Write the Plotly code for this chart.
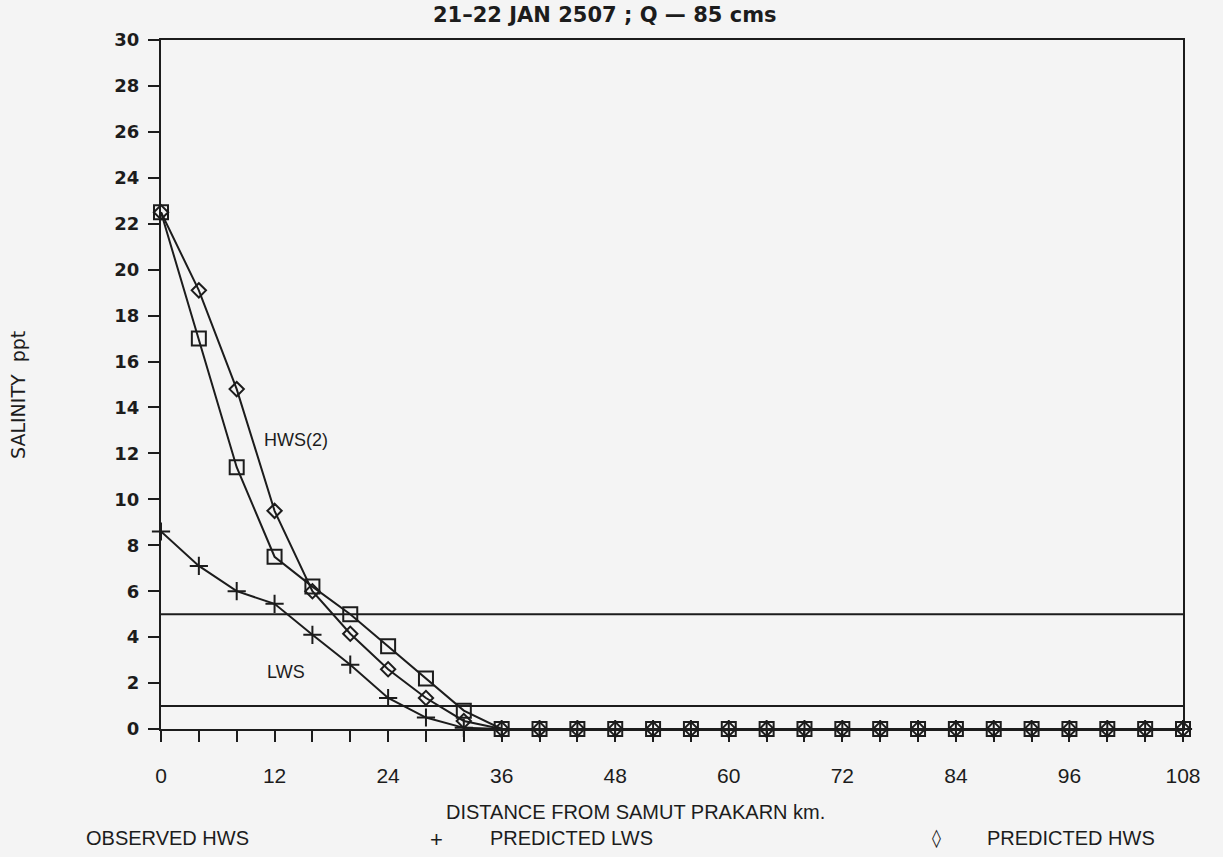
import plotly.graph_objects as go

distance_km = [0, 4, 8, 12, 16, 20, 24, 28, 32, 36, 40, 44, 48, 52, 56, 60, 64, 68,
               72, 76, 80, 84, 88, 92, 96, 100, 104, 108]
observed_hws = [22.5, 17.0, 11.4, 7.5, 6.2, 5.0, 3.6, 2.2, 0.8, 0, 0, 0, 0, 0, 0, 0, 0, 0,
                0, 0, 0, 0, 0, 0, 0, 0, 0, 0]
predicted_hws = [22.5, 19.1, 14.8, 9.5, 6.0, 4.15, 2.6, 1.35, 0.35, 0, 0, 0, 0, 0, 0, 0, 0, 0,
                 0, 0, 0, 0, 0, 0, 0, 0, 0, 0]
predicted_lws = [8.6, 7.1, 6.0, 5.45, 4.1, 2.8, 1.35, 0.5, 0.05, 0, 0, 0, 0, 0, 0, 0, 0, 0,
                 0, 0, 0, 0, 0, 0, 0, 0, 0, 0]
threshold_levels = [5, 1]
x_tick_vals = [0, 12, 24, 36, 48, 60, 72, 84, 96, 108]
y_tick_vals = list(range(0, 31, 2))

INK = "#1c1c1c"
PAPER = "#f4f4f4"
NARROW = "Liberation Sans, Arial, sans-serif"
WIDE = "DejaVu Sans, sans-serif"

# plot-area geometry (pixels) used only to convert label positions
L, R, T, B = 161, 1183, 40, 729
W, H = 1223, 857

fig = go.Figure()

for lvl in threshold_levels:
    fig.add_trace(go.Scatter(x=[distance_km[0], distance_km[-1]], y=[lvl, lvl], mode="lines",
                             line=dict(color=INK, width=2), showlegend=False, hoverinfo="skip"))

fig.add_trace(go.Scatter(x=distance_km, y=predicted_lws, mode="lines+markers",
                         line=dict(color=INK, width=2),
                         marker=dict(symbol="cross-thin-open", size=13, line=dict(color=INK, width=2)),
                         name="PREDICTED LWS", cliponaxis=False))
fig.add_trace(go.Scatter(x=distance_km, y=predicted_hws, mode="lines+markers",
                         line=dict(color=INK, width=2),
                         marker=dict(symbol="diamond-open", size=11, line=dict(color=INK, width=2)),
                         name="PREDICTED HWS", cliponaxis=False))
fig.add_trace(go.Scatter(x=distance_km, y=observed_hws, mode="lines+markers",
                         line=dict(color=INK, width=2),
                         marker=dict(symbol="square-open", size=14, line=dict(color=INK, width=2)),
                         name="OBSERVED HWS", cliponaxis=False))


def px_ann(xp, yp, text, size=20, anchor="center", family=NARROW, angle=0, weight="normal",
           yanchor="middle"):
    return dict(x=(xp - L) / (R - L), y=(B - yp) / (B - T), xref="paper", yref="paper",
                text=text, showarrow=False, xanchor=anchor, yanchor=yanchor, textangle=angle,
                font=dict(size=size, family=family, color=INK, weight=weight))


annotations = [
    dict(x=14.3, y=12.6, xref="x", yref="y", text="HWS(2)", showarrow=False,
         font=dict(size=18, family=NARROW, color=INK)),
    dict(x=13.2, y=2.5, xref="x", yref="y", text="LWS", showarrow=False,
         font=dict(size=18, family=NARROW, color=INK)),
    px_ann(635, 825, "DISTANCE FROM SAMUT PRAKARN km.", size=20, yanchor="bottom"),
    px_ann(84, 825, "OBSERVED HWS", anchor="left", yanchor="top"),
    px_ann(436, 825, "+", size=22, yanchor="top"),
    px_ann(488, 825, "PREDICTED LWS", anchor="left", yanchor="top"),
    px_ann(936, 825, "◊", size=18, family="DejaVu Sans", yanchor="top"),
    px_ann(985, 825, "PREDICTED HWS", anchor="left", yanchor="top"),
    px_ann(18, 395, "SALINITY&nbsp;&nbsp;ppt", size=19, family=WIDE, angle=-90),
    px_ann(605, 15, "21–22 JAN 2507 ; Q — 85 cms", size=21, family=WIDE, weight="bold"),
]

fig.update_layout(
    width=W, height=857,
    paper_bgcolor=PAPER, plot_bgcolor=PAPER,
    margin=dict(l=L, r=W - R, t=T, b=H - B),
    showlegend=False,
    annotations=annotations,
    xaxis=dict(range=[0, 108], tickvals=x_tick_vals, ticks="outside", ticklen=11, tickwidth=2,
               tickcolor=INK, showgrid=False, zeroline=False, showline=True, linecolor=INK,
               linewidth=2, mirror=True, ticklabelstandoff=16,
               tickfont=dict(size=21, family=NARROW, color=INK),
               minor=dict(dtick=4, tick0=0, ticks="outside", ticklen=11, tickwidth=2, tickcolor=INK)),
    yaxis=dict(range=[0, 30], tickvals=y_tick_vals, ticks="outside", ticklen=11, tickwidth=2,
               tickcolor=INK, showgrid=False, zeroline=False, showline=True, linecolor=INK,
               linewidth=2, mirror=True, ticklabelstandoff=5,
               tickfont=dict(size=18, family=WIDE, color=INK, weight="bold")),
)

fig.write_html("out.html")
